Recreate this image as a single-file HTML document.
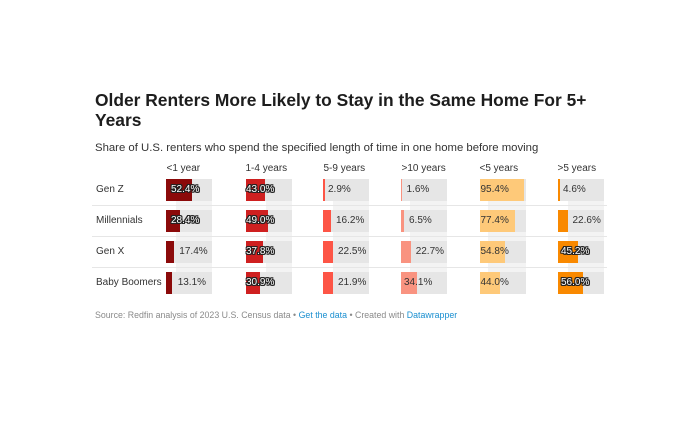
<!DOCTYPE html>
<html><head><meta charset="utf-8">
<style>
*{margin:0;padding:0;box-sizing:border-box}
body{width:700px;height:421px;background:#fff;position:relative;overflow:hidden;font-family:"Liberation Sans",Arial,sans-serif;color:#333}
.a{position:absolute}
.title{left:95px;top:90px;font-size:17.4px;font-weight:bold;line-height:20px;color:#1d1d1d;white-space:nowrap}
.sub{left:95px;top:141.5px;font-size:11.35px;color:#333;white-space:nowrap}
.hd{top:163px;font-size:10px;color:#333;white-space:nowrap}
.lab{left:96px;font-size:10px;line-height:22px;color:#333;white-space:nowrap}
.bg{height:22px;width:46px;background:#e6e6e6}
.band{top:179px;height:114px;background:#f3f3f3}
.sep{left:92px;width:515px;height:1px;background:#e6e6e6}
.b{height:22px}
.v{font-size:10px;line-height:22px;white-space:nowrap;color:#333}
.w{color:#fff;text-shadow:-1px 0 #222,1px 0 #222,0 -1px #222,0 1px #222,-1px -1px #222,1px 1px #222,-1px 1px #222,1px -1px #222}
.foot{left:95px;top:310px;font-size:8.8px;color:#8a8a8a;white-space:nowrap}
.foot span{color:#1a8fd0}
</style></head><body>
<div class="a title">Older Renters More Likely to Stay in the Same Home For 5+<br>Years</div>
<div class="a sub">Share of U.S. renters who spend the specified length of time in one home before moving</div>

<div class="a hd" style="left:166.5px">&lt;1 year</div>
<div class="a hd" style="left:245.5px">1-4 years</div>
<div class="a hd" style="left:323.5px">5-9 years</div>
<div class="a hd" style="left:401.5px">&gt;10 years</div>
<div class="a hd" style="left:479.5px">&lt;5 years</div>
<div class="a hd" style="left:557.5px">&gt;5 years</div>

<!-- bands -->
<div class="a band" style="left:176px;width:36px"></div>
<div class="a band" style="left:266px;width:25.5px"></div>
<div class="a band" style="left:333px;width:36px"></div>
<div class="a band" style="left:410px;width:37px"></div>
<div class="a band" style="left:488px;width:37.5px"></div>
<div class="a band" style="left:568px;width:35.5px"></div>

<div class="a sep" style="top:205px"></div>
<div class="a sep" style="top:236px"></div>
<div class="a sep" style="top:267px"></div>

<div class="a lab" style="top:179px">Gen Z</div>
<div class="a lab" style="top:210px">Millennials</div>
<div class="a lab" style="top:241px">Gen X</div>
<div class="a lab" style="top:272px">Baby Boomers</div>

<!-- grey backgrounds -->
<div class="a bg" style="left:166px;top:179px"></div><div class="a bg" style="left:245.5px;top:179px"></div><div class="a bg" style="left:323px;top:179px"></div><div class="a bg" style="left:401px;top:179px"></div><div class="a bg" style="left:479.5px;top:179px"></div><div class="a bg" style="left:557.5px;top:179px"></div>
<div class="a bg" style="left:166px;top:210px"></div><div class="a bg" style="left:245.5px;top:210px"></div><div class="a bg" style="left:323px;top:210px"></div><div class="a bg" style="left:401px;top:210px"></div><div class="a bg" style="left:479.5px;top:210px"></div><div class="a bg" style="left:557.5px;top:210px"></div>
<div class="a bg" style="left:166px;top:241px"></div><div class="a bg" style="left:245.5px;top:241px"></div><div class="a bg" style="left:323px;top:241px"></div><div class="a bg" style="left:401px;top:241px"></div><div class="a bg" style="left:479.5px;top:241px"></div><div class="a bg" style="left:557.5px;top:241px"></div>
<div class="a bg" style="left:166px;top:272px"></div><div class="a bg" style="left:245.5px;top:272px"></div><div class="a bg" style="left:323px;top:272px"></div><div class="a bg" style="left:401px;top:272px"></div><div class="a bg" style="left:479.5px;top:272px"></div><div class="a bg" style="left:557.5px;top:272px"></div>

<!-- Gen Z -->
<div class="a b" style="left:166px;top:179px;width:25.5px;background:#8b0a0a"></div>
<div class="a b" style="left:245.5px;top:179px;width:19.8px;background:#cf2020"></div>
<div class="a b" style="left:323px;top:179px;width:1.6px;background:#fd5546"></div>
<div class="a b" style="left:401px;top:179px;width:1.2px;background:#f99380"></div>
<div class="a b" style="left:479.5px;top:179px;width:44px;background:#fec979"></div>
<div class="a b" style="left:557.5px;top:179px;width:2.2px;background:#f98900"></div>
<!-- Millennials -->
<div class="a b" style="left:166px;top:210px;width:13.5px;background:#8b0a0a"></div>
<div class="a b" style="left:245.5px;top:210px;width:22.5px;background:#cf2020"></div>
<div class="a b" style="left:323px;top:210px;width:7.5px;background:#fd5546"></div>
<div class="a b" style="left:401px;top:210px;width:3px;background:#f99380"></div>
<div class="a b" style="left:479.5px;top:210px;width:35.6px;background:#fec979"></div>
<div class="a b" style="left:557.5px;top:210px;width:10.4px;background:#f98900"></div>
<!-- Gen X -->
<div class="a b" style="left:166px;top:241px;width:8px;background:#8b0a0a"></div>
<div class="a b" style="left:245.5px;top:241px;width:17.4px;background:#cf2020"></div>
<div class="a b" style="left:323px;top:241px;width:10.4px;background:#fd5546"></div>
<div class="a b" style="left:401px;top:241px;width:10.4px;background:#f99380"></div>
<div class="a b" style="left:479.5px;top:241px;width:25.2px;background:#fec979"></div>
<div class="a b" style="left:557.5px;top:241px;width:20.8px;background:#f98900"></div>
<!-- Boomers -->
<div class="a b" style="left:166px;top:272px;width:6px;background:#8b0a0a"></div>
<div class="a b" style="left:245.5px;top:272px;width:14.2px;background:#cf2020"></div>
<div class="a b" style="left:323px;top:272px;width:10.1px;background:#fd5546"></div>
<div class="a b" style="left:401px;top:272px;width:15.7px;background:#f99380"></div>
<div class="a b" style="left:479.5px;top:272px;width:20.2px;background:#fec979"></div>
<div class="a b" style="left:557.5px;top:272px;width:25.8px;background:#f98900"></div>

<!-- values -->
<div class="a v w" style="left:171px;top:179px">52.4%</div>
<div class="a v w" style="left:246px;top:179px">43.0%</div>
<div class="a v" style="left:328px;top:179px">2.9%</div>
<div class="a v" style="left:406.5px;top:179px">1.6%</div>
<div class="a v" style="left:480.5px;top:179px">95.4%</div>
<div class="a v" style="left:563px;top:179px">4.6%</div>

<div class="a v w" style="left:171px;top:210px">28.4%</div>
<div class="a v w" style="left:246px;top:210px">49.0%</div>
<div class="a v" style="left:336px;top:210px">16.2%</div>
<div class="a v" style="left:409px;top:210px">6.5%</div>
<div class="a v" style="left:480.5px;top:210px">77.4%</div>
<div class="a v" style="left:572.5px;top:210px">22.6%</div>

<div class="a v" style="left:179.3px;top:241px">17.4%</div>
<div class="a v w" style="left:246px;top:241px">37.8%</div>
<div class="a v" style="left:338px;top:241px">22.5%</div>
<div class="a v" style="left:415.7px;top:241px">22.7%</div>
<div class="a v" style="left:480.5px;top:241px">54.8%</div>
<div class="a v w" style="left:561px;top:241px">45.2%</div>

<div class="a v" style="left:177.7px;top:272px">13.1%</div>
<div class="a v w" style="left:246px;top:272px">30.9%</div>
<div class="a v" style="left:338px;top:272px">21.9%</div>
<div class="a v" style="left:404px;top:272px">34.1%</div>
<div class="a v" style="left:480.5px;top:272px">44.0%</div>
<div class="a v w" style="left:561px;top:272px">56.0%</div>

<div class="a foot">Source: Redfin analysis of 2023 U.S. Census data • <span>Get the data</span> • Created with <span>Datawrapper</span></div>
</body></html>
